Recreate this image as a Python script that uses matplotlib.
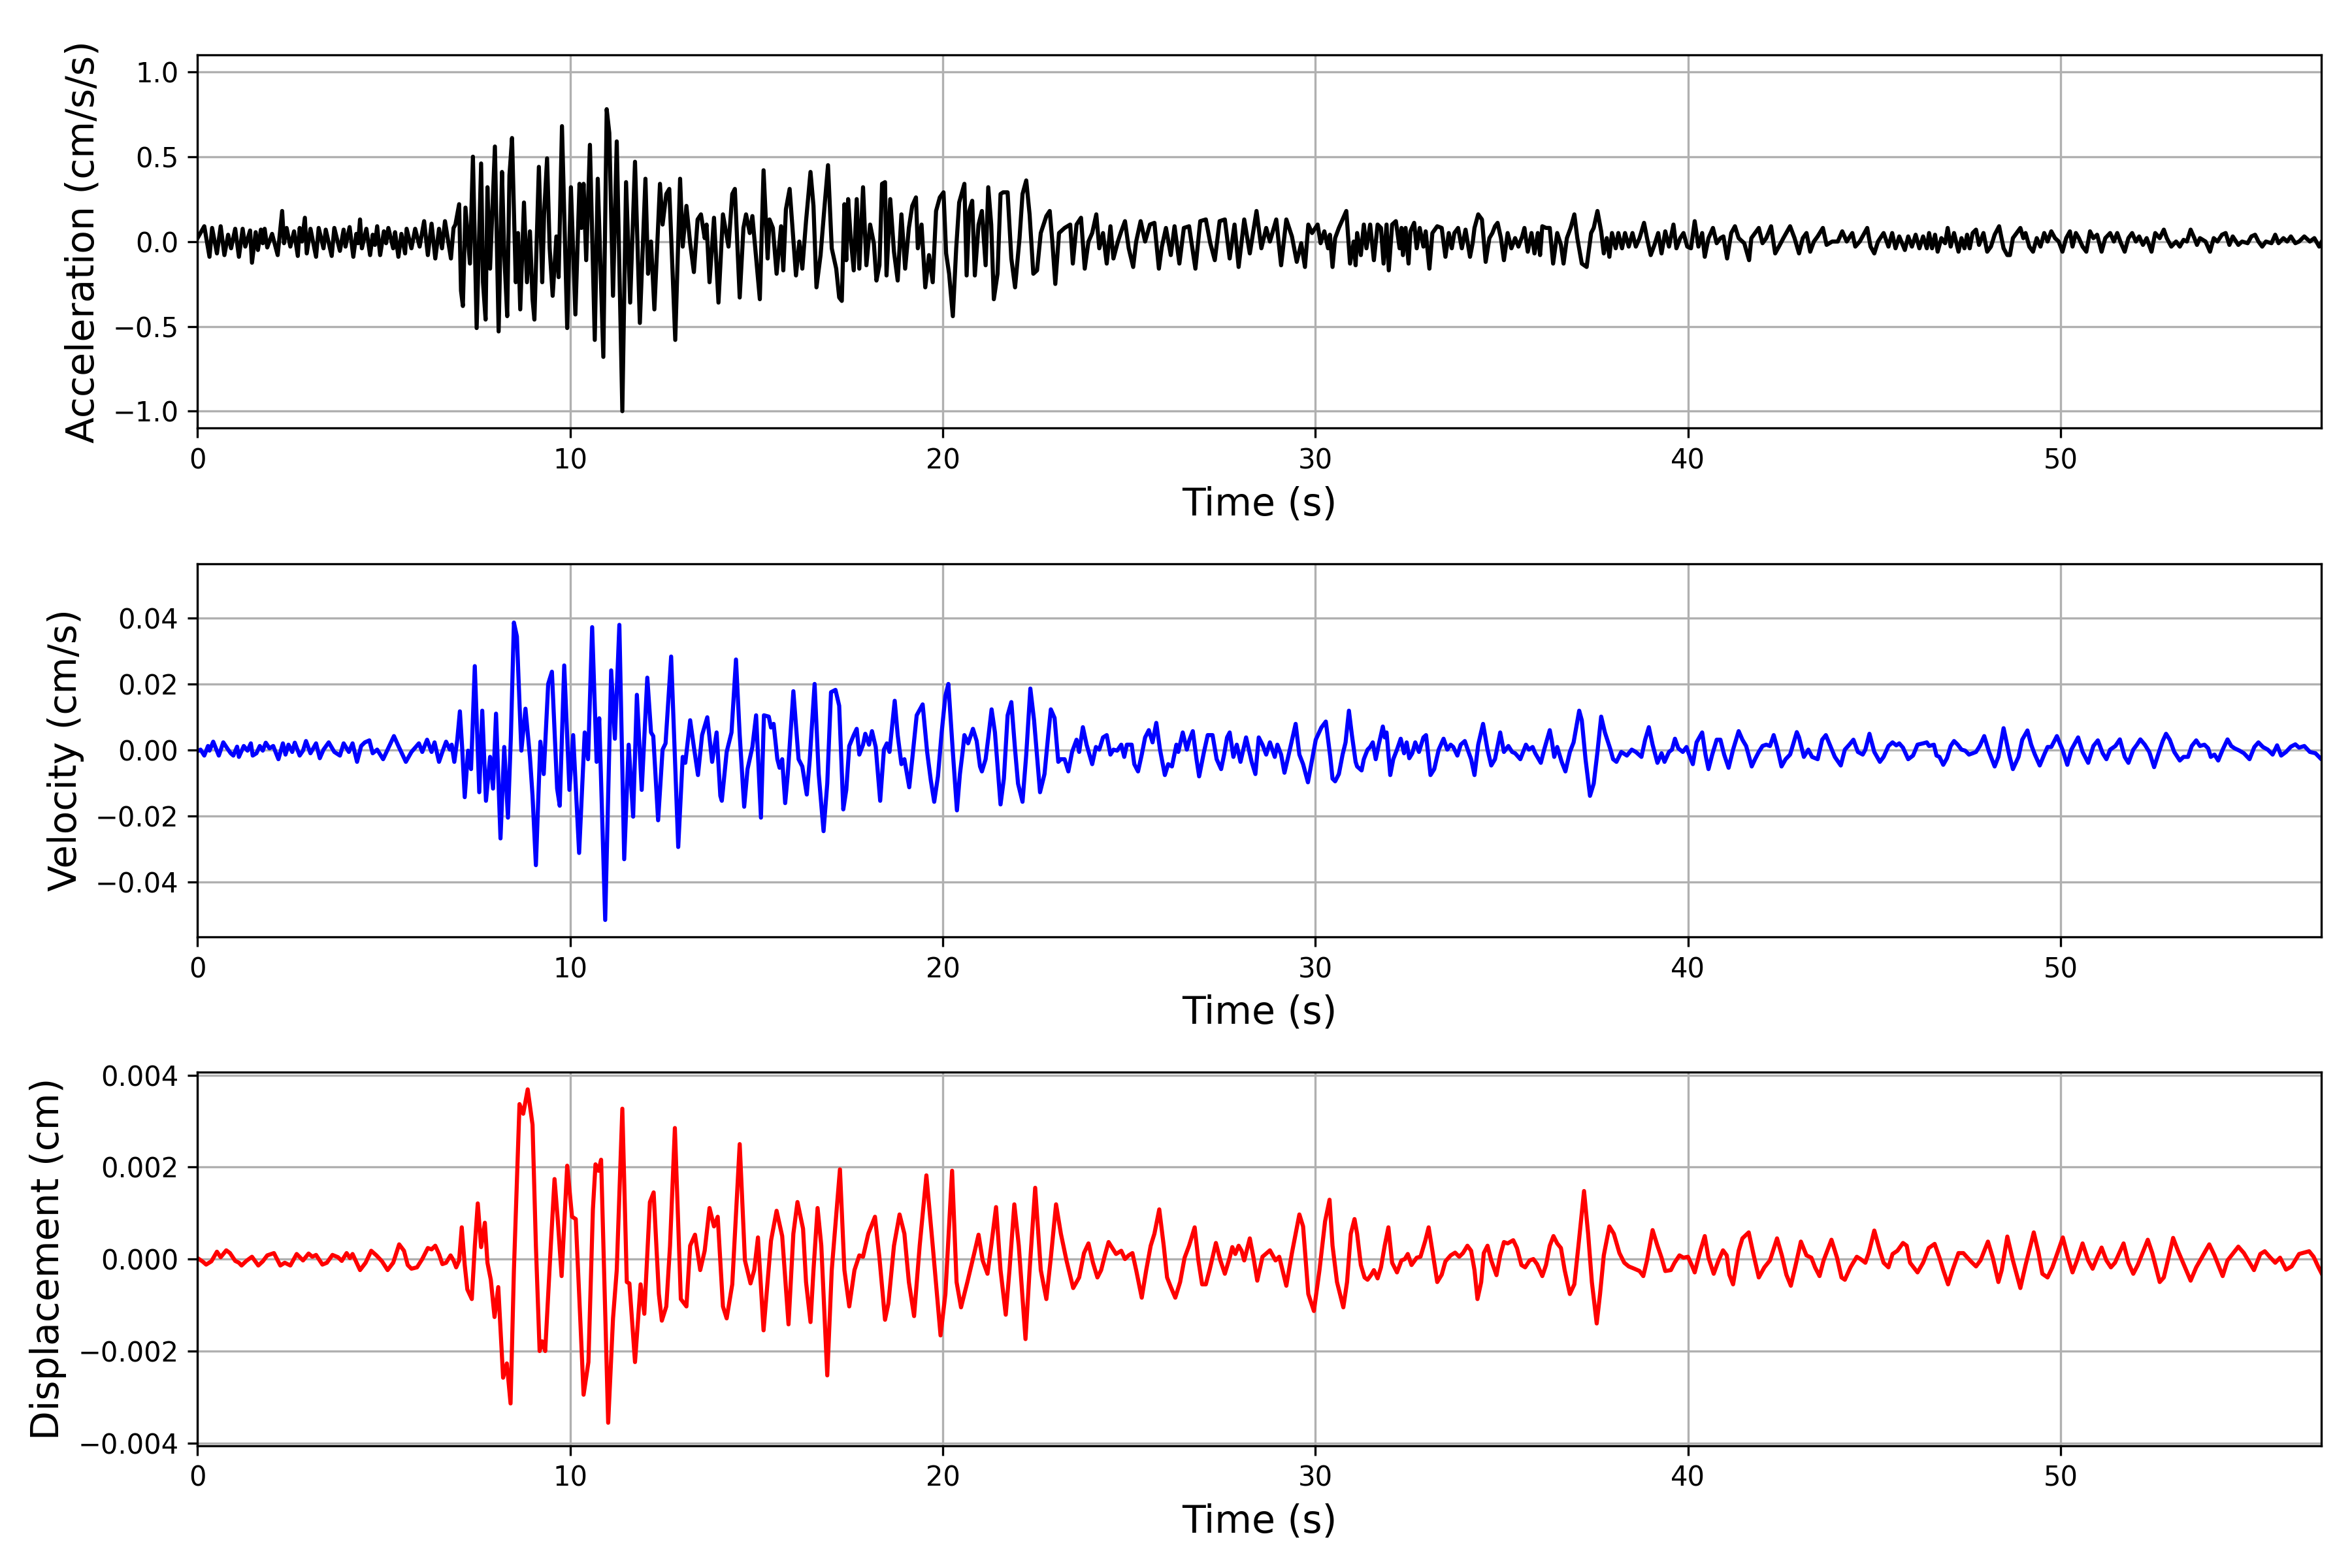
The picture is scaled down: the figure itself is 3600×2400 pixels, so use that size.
import numpy as np
import matplotlib
matplotlib.use("Agg")
import matplotlib.pyplot as plt

# ground acceleration (time s, cm/s/s), turning points
acc_pts = [
    (0.00, 0.02), (0.18, 0.09), (0.32, -0.09), (0.39, 0.08), (0.52, -0.07), (0.62, 0.09), (0.72, -0.08),
    (0.82, 0.04), (0.90, -0.04), (1.01, 0.075), (1.11, -0.09), (1.21, 0.075), (1.28, -0.03), (1.41, 0.065),
    (1.46, -0.125), (1.56, 0.055), (1.62, -0.05), (1.70, 0.07), (1.75, -0.01), (1.80, 0.075), (1.87, -0.035),
    (2.00, 0.045), (2.15, -0.08), (2.27, 0.18), (2.32, -0.01), (2.39, 0.08), (2.49, -0.03), (2.59, 0.06),
    (2.69, -0.085), (2.74, 0.08), (2.80, 0.00), (2.88, 0.14), (2.93, -0.07), (3.03, 0.075), (3.18, -0.09),
    (3.25, 0.08), (3.38, -0.04), (3.44, 0.07), (3.60, -0.085), (3.67, 0.08), (3.82, -0.055), (3.92, 0.07),
    (3.97, -0.03), (4.08, 0.085), (4.18, -0.09), (4.26, 0.045), (4.31, -0.01), (4.36, 0.13), (4.41, -0.04),
    (4.53, 0.075), (4.63, -0.08), (4.70, 0.04), (4.76, -0.02), (4.82, 0.09), (4.90, -0.08), (5.00, 0.06),
    (5.06, -0.01), (5.12, 0.08), (5.25, -0.04), (5.30, 0.055), (5.39, -0.09), (5.47, 0.045), (5.57, -0.07),
    (5.61, 0.075), (5.74, -0.04), (5.84, 0.075), (5.96, -0.03), (6.08, 0.12), (6.18, -0.08), (6.28, 0.105),
    (6.38, -0.10), (6.48, 0.075), (6.56, -0.04), (6.64, 0.12), (6.80, -0.10), (6.87, 0.08),
    (6.92, 0.10), (7.02, 0.22), (7.07, -0.29), (7.12, -0.38), (7.19, 0.20), (7.31, -0.13), (7.39, 0.50),
    (7.49, -0.51), (7.61, 0.46), (7.66, -0.24), (7.73, -0.46), (7.78, 0.32), (7.85, -0.16), (7.90, 0.12),
    (7.98, 0.56), (8.08, -0.53), (8.17, 0.41), (8.23, -0.07), (8.31, -0.44), (8.37, 0.39), (8.44, 0.61),
    (8.54, -0.24), (8.60, 0.05), (8.66, -0.40), (8.76, 0.23), (8.84, -0.24), (8.92, 0.06), (8.99, -0.34),
    (9.04, -0.46), (9.16, 0.44), (9.25, -0.24), (9.30, 0.16), (9.38, 0.49), (9.45, -0.04), (9.53, -0.32),
    (9.63, 0.03), (9.69, -0.21), (9.78, 0.68), (9.92, -0.51), (10.02, 0.32), (10.14, -0.43), (10.25, 0.34),
    (10.30, 0.08), (10.36, 0.34), (10.43, -0.11), (10.53, 0.57), (10.66, -0.58), (10.74, 0.37), (10.89, -0.68),
    (10.98, 0.78), (11.05, 0.64), (11.15, -0.32), (11.25, 0.59), (11.40, -1.00), (11.50, 0.35), (11.61, -0.36),
    (11.74, 0.47), (11.87, -0.48), (12.02, 0.37), (12.09, -0.19), (12.17, 0.00), (12.26, -0.40), (12.41, 0.34),
    (12.48, 0.10), (12.58, 0.28), (12.66, 0.31), (12.82, -0.58), (12.95, 0.37), (13.02, -0.03), (13.12, 0.21),
    (13.22, -0.01), (13.32, -0.18), (13.42, 0.13), (13.51, 0.16), (13.61, 0.02), (13.66, 0.10), (13.74, -0.24),
    (13.86, 0.14), (13.98, -0.36), (14.10, 0.16), (14.25, -0.03), (14.35, 0.28), (14.42, 0.31), (14.55, -0.33),
    (14.65, 0.08), (14.72, 0.16), (14.82, 0.05), (14.89, 0.15), (15.09, -0.34), (15.19, 0.42),
    (15.30, -0.10), (15.35, 0.13), (15.44, 0.08), (15.54, -0.19), (15.66, 0.09), (15.72, -0.17), (15.79, 0.19),
    (15.89, 0.31), (15.96, 0.10), (16.06, -0.20), (16.15, 0.00), (16.23, -0.16), (16.33, 0.12), (16.45, 0.41),
    (16.53, 0.21), (16.61, -0.27), (16.72, -0.08), (16.82, 0.19), (16.92, 0.45), (17.02, -0.04), (17.14, -0.16),
    (17.22, -0.33), (17.29, -0.35), (17.36, 0.22), (17.41, -0.11), (17.46, 0.25), (17.53, 0.02), (17.61, -0.17),
    (17.69, 0.25), (17.76, -0.16), (17.86, 0.32), (17.95, -0.14), (18.05, 0.10), (18.15, -0.01), (18.22, -0.23),
    (18.30, -0.14), (18.37, 0.34), (18.45, 0.35), (18.49, -0.20), (18.59, 0.25), (18.69, -0.06), (18.79, -0.23),
    (18.89, 0.16), (18.99, -0.16), (19.09, 0.08), (19.18, 0.21), (19.28, 0.26), (19.33, -0.04), (19.43, 0.10),
    (19.53, -0.27), (19.63, -0.08), (19.73, -0.24), (19.82, 0.18), (19.92, 0.26), (20.02, 0.29), (20.09, -0.07),
    (20.17, -0.19), (20.27, -0.44), (20.36, -0.04), (20.44, 0.23), (20.58, 0.34), (20.64, -0.20), (20.71, 0.18),
    (20.79, 0.24), (20.86, -0.20), (20.96, 0.10), (21.05, 0.18), (21.15, -0.14), (21.22, 0.32), (21.30, 0.10),
    (21.37, -0.34), (21.47, -0.19), (21.55, 0.28), (21.62, 0.29), (21.74, 0.29), (21.84, -0.10), (21.94, -0.27),
    (22.06, 0.02), (22.14, 0.28), (22.24, 0.36), (22.33, 0.16), (22.43, -0.19), (22.53, -0.17), (22.63, 0.05),
    (22.78, 0.15), (22.87, 0.18), (22.94, 0.00), (23.02, -0.25), (23.12, 0.05), (23.27, 0.08), (23.42, 0.10),
    (23.49, -0.13), (23.59, 0.10), (23.71, 0.14), (23.81, -0.16), (23.91, 0.00), (24.01, 0.05), (24.12, 0.16),
    (24.20, -0.04), (24.30, 0.05), (24.40, -0.13), (24.50, 0.09), (24.58, -0.10), (24.70, 0.00), (24.79, 0.06),
    (24.89, 0.12), (24.99, -0.04), (25.11, -0.15), (25.19, 0.00), (25.31, 0.12), (25.43, 0.00), (25.56, 0.10),
    (25.68, 0.11), (25.80, -0.16), (25.88, -0.03), (25.99, 0.08), (26.12, -0.08), (26.22, 0.09), (26.35, -0.13),
    (26.47, 0.08), (26.61, 0.09), (26.78, -0.16), (26.91, 0.12), (27.06, 0.13), (27.18, -0.01), (27.30, -0.11),
    (27.43, 0.12), (27.57, 0.13), (27.70, -0.10), (27.83, 0.10), (27.94, -0.15), (28.09, 0.13), (28.24, -0.07),
    (28.42, 0.18), (28.55, -0.04), (28.68, 0.08), (28.78, 0.00), (28.95, 0.13), (29.08, -0.14), (29.22, 0.13),
    (29.37, 0.03), (29.50, -0.12), (29.62, -0.01), (29.72, -0.15), (29.81, 0.10), (29.91, 0.05), (30.06, 0.10),
    (30.14, -0.01), (30.24, 0.06), (30.34, -0.04), (30.39, 0.04), (30.46, -0.15), (30.53, 0.02), (30.63, 0.08),
    (30.73, 0.13), (30.83, 0.18), (30.93, -0.13), (31.03, 0.00), (31.08, -0.14), (31.12, 0.05), (31.22, -0.08),
    (31.30, 0.10), (31.37, -0.04), (31.47, 0.10), (31.57, -0.11), (31.67, 0.10), (31.76, 0.08), (31.83, -0.13),
    (31.91, 0.10), (31.97, -0.17), (32.06, 0.10), (32.16, 0.12), (32.26, -0.04), (32.31, 0.08), (32.35, -0.08),
    (32.42, 0.08), (32.50, -0.13), (32.55, 0.06), (32.65, 0.11), (32.72, -0.04), (32.80, 0.08), (32.90, -0.03),
    (32.96, 0.06), (33.06, -0.16), (33.14, 0.05), (33.27, 0.09), (33.39, 0.08), (33.49, -0.09), (33.58, 0.05),
    (33.66, -0.04), (33.73, 0.05), (33.83, 0.08), (33.93, -0.04), (34.03, 0.07), (34.15, -0.09), (34.22, -0.01),
    (34.27, 0.08), (34.37, 0.16), (34.47, 0.13), (34.57, -0.12), (34.67, 0.02), (34.75, 0.05), (34.82, 0.09),
    (34.89, 0.11), (34.98, 0.02), (35.06, -0.11), (35.16, 0.05), (35.26, -0.04), (35.36, 0.02), (35.45, -0.03),
    (35.55, 0.03), (35.61, 0.08), (35.70, -0.06), (35.80, 0.05), (35.88, -0.07), (35.97, 0.05), (36.03, -0.08),
    (36.09, 0.09), (36.19, 0.08), (36.29, 0.08), (36.38, -0.13), (36.49, 0.05), (36.59, -0.02), (36.66, -0.13),
    (36.75, 0.02), (36.85, 0.08), (36.95, 0.16), (37.03, 0.02), (37.15, -0.13), (37.28, -0.15), (37.40, 0.05),
    (37.47, 0.08), (37.57, 0.18), (37.67, 0.06), (37.74, -0.07), (37.82, 0.02), (37.89, -0.09), (37.96, 0.05),
    (38.06, -0.04), (38.13, 0.05), (38.23, -0.04), (38.31, 0.05), (38.41, -0.03), (38.51, 0.05), (38.60, -0.03),
    (38.70, 0.02), (38.82, 0.11), (38.90, 0.02), (39.00, -0.08), (39.10, -0.02), (39.20, 0.05), (39.29, -0.07),
    (39.39, 0.06), (39.49, -0.03), (39.61, 0.10), (39.69, -0.04), (39.79, 0.02), (39.88, 0.05), (39.98, -0.03),
    (40.08, -0.04), (40.18, 0.12), (40.28, -0.03), (40.38, 0.05), (40.45, -0.09), (40.55, 0.02), (40.67, 0.08),
    (40.77, -0.01), (40.87, 0.02), (40.95, 0.03), (41.05, -0.10), (41.16, 0.05), (41.26, 0.09), (41.36, 0.02),
    (41.51, -0.01), (41.64, -0.11), (41.70, 0.02), (41.80, 0.05), (41.90, 0.08), (42.00, -0.01), (42.10, 0.02),
    (42.23, 0.09), (42.34, -0.07), (42.44, -0.03), (42.56, 0.02), (42.74, 0.09), (42.86, 0.02), (42.98, -0.07),
    (43.08, 0.02), (43.18, 0.05), (43.28, -0.06), (43.38, 0.00), (43.48, 0.03), (43.62, 0.08), (43.72, -0.02),
    (43.87, 0.00), (44.02, 0.00), (44.14, 0.06), (44.26, 0.00), (44.41, 0.05), (44.49, -0.03), (44.61, 0.00),
    (44.81, 0.08), (44.90, -0.03), (45.00, -0.07), (45.10, 0.00), (45.25, 0.05), (45.38, -0.03), (45.48, 0.05),
    (45.57, -0.04), (45.67, 0.03), (45.82, -0.05), (45.91, 0.03), (46.01, -0.03), (46.11, 0.04), (46.21, -0.04),
    (46.31, 0.03), (46.41, -0.04), (46.47, 0.05), (46.55, -0.04), (46.63, 0.04), (46.70, -0.06), (46.80, 0.02),
    (46.90, -0.01), (46.97, 0.08), (47.05, -0.03), (47.14, 0.05), (47.26, -0.06), (47.34, 0.02), (47.42, -0.04),
    (47.49, 0.04), (47.56, -0.04), (47.64, 0.05), (47.73, 0.07), (47.81, -0.02), (47.93, 0.05), (48.03, -0.06),
    (48.13, -0.03), (48.23, 0.04), (48.35, 0.09), (48.47, -0.04), (48.57, -0.08), (48.64, -0.08), (48.72, 0.02),
    (48.82, 0.05), (48.92, 0.08), (49.00, 0.02), (49.06, 0.05), (49.16, -0.03), (49.26, -0.06), (49.36, 0.02),
    (49.46, -0.03), (49.56, 0.05), (49.65, 0.00), (49.75, 0.06), (49.85, 0.02), (49.95, 0.00), (50.05, -0.06),
    (50.15, 0.02), (50.25, 0.06), (50.32, -0.03), (50.41, 0.05), (50.49, 0.02), (50.59, -0.03), (50.69, -0.06),
    (50.79, 0.06), (50.88, 0.02), (50.98, 0.04), (51.10, -0.06), (51.20, 0.02), (51.33, 0.05), (51.43, 0.00),
    (51.52, 0.05), (51.62, -0.01), (51.72, -0.06), (51.82, 0.02), (51.92, 0.05), (52.02, 0.00), (52.11, 0.03),
    (52.21, -0.02), (52.31, 0.02), (52.44, -0.06), (52.54, 0.05), (52.66, 0.02), (52.77, 0.07), (52.85, 0.02),
    (52.97, -0.03), (53.10, 0.00), (53.20, -0.03), (53.30, 0.01), (53.39, 0.00), (53.49, 0.07), (53.59, 0.02),
    (53.66, -0.02), (53.74, 0.02), (53.89, 0.00), (54.01, -0.06), (54.11, 0.02), (54.21, 0.00), (54.33, 0.04),
    (54.43, 0.05), (54.53, -0.02), (54.62, 0.03), (54.77, -0.02), (54.87, 0.00), (55.02, -0.01), (55.12, 0.03),
    (55.22, 0.04), (55.31, 0.00), (55.41, -0.03), (55.51, 0.00), (55.66, -0.01), (55.76, 0.04), (55.85, -0.01),
    (55.98, 0.02), (56.08, 0.00), (56.18, 0.03), (56.30, -0.01), (56.40, 0.00), (56.54, 0.03), (56.69, 0.00),
    (56.81, 0.02), (56.94, -0.03), (57.01, 0.00),
]

# ground velocity (time s, value in 1e-3 cm/s)
vel_pts_milli = [
    (0.00, -0.3), (0.08, 0.2), (0.18, -1.6), (0.28, 1.3), (0.32, -0.1), (0.42, 2.6), (0.57, -1.6), (0.69, 2.4),
    (0.82, 0.2), (0.89, -0.9), (0.96, -1.6), (1.06, 1.1), (1.11, -2.0), (1.24, 1.3), (1.34, -0.1), (1.43, 2.1),
    (1.48, -1.6), (1.58, -0.9), (1.67, 1.3), (1.75, -0.1), (1.83, 2.3), (1.93, 0.6), (2.03, 1.3), (2.17, -2.7),
    (2.29, 2.1), (2.36, -1.3), (2.44, 1.7), (2.54, -0.5), (2.61, 2.3), (2.74, -1.6), (2.83, -0.1), (2.91, 2.8),
    (3.03, -0.9), (3.18, 2.1), (3.28, -2.4), (3.38, 0.2), (3.52, 2.4), (3.67, -0.5), (3.82, -1.6), (3.92, 2.1),
    (4.06, -0.5), (4.16, 2.1), (4.28, -3.5), (4.39, 1.3), (4.49, 2.4), (4.61, 3.0), (4.70, -0.9), (4.82, 0.2),
    (4.98, -2.7), (5.10, 0.2), (5.27, 4.3), (5.39, 1.3), (5.59, -3.5), (5.74, -0.5), (5.94, 2.1), (6.03, -0.5),
    (6.16, 3.2), (6.28, -0.5), (6.36, 2.4), (6.48, -3.5), (6.57, -0.5), (6.67, 2.6), (6.77, 0.2), (6.82, 1.7),
    (6.89, -3.5), (6.97, 3.2), (7.04, 11.8), (7.10, 1.0), (7.17, -14.2), (7.26, -0.1), (7.34, -5.7), (7.44, 25.5),
    (7.56, -12.7), (7.64, 12.0), (7.74, -15.3), (7.85, -2.0), (7.93, -11.6), (8.01, 11.1), (8.13, -26.7),
    (8.23, 1.0), (8.33, -20.4), (8.41, 4.6), (8.49, 38.7), (8.57, 34.5), (8.69, -0.1), (8.80, 12.6), (8.92, -2.0),
    (8.99, -13.8), (9.08, -34.8), (9.20, 2.6), (9.29, -7.2), (9.41, 20.1), (9.51, 23.8), (9.65, -11.6),
    (9.72, -16.8), (9.84, 25.7), (9.98, -12.0), (10.08, 4.6), (10.24, -31.1), (10.39, 5.4), (10.48, -2.7),
    (10.59, 37.3), (10.71, -3.5), (10.78, 9.7), (10.94, -51.4), (11.10, 24.2), (11.20, 3.5), (11.32, 38.0),
    (11.45, -33.0), (11.57, 1.7), (11.69, -20.1), (11.79, 16.8), (11.92, -12.0), (12.07, 22.0), (12.17, 5.4),
    (12.23, 4.3), (12.36, -21.2), (12.48, 0.2), (12.56, 2.1), (12.71, 28.4), (12.90, -29.3), (13.02, -2.0),
    (13.09, -3.8), (13.22, 9.1), (13.32, 1.0), (13.43, -7.5), (13.54, 4.6), (13.68, 10.0), (13.81, -3.5),
    (13.93, 5.4), (14.03, -13.8), (14.07, -15.3), (14.20, -0.5), (14.33, 5.4), (14.45, 27.5), (14.55, 4.6),
    (14.67, -17.1), (14.76, -5.7), (14.89, 1.0), (14.99, 10.6), (15.12, -20.4), (15.20, 10.6),
    (15.33, 10.2), (15.39, 6.9), (15.46, 8.0), (15.56, -2.7), (15.62, -5.3), (15.69, -2.7), (15.77, -16.0),
    (15.84, -7.2), (15.99, 17.9), (16.08, 4.6), (16.13, -2.7), (16.23, -4.9), (16.35, -13.4), (16.43, -2.7),
    (16.56, 20.1), (16.67, -7.2), (16.80, -24.5), (16.90, -10.0), (17.00, 17.6), (17.12, 18.3), (17.22, 13.5),
    (17.33, -17.9), (17.41, -12.0), (17.49, 1.3), (17.61, 4.6), (17.69, 6.5), (17.76, -1.3), (17.86, 1.7),
    (17.92, 5.0), (18.02, 1.7), (18.10, 5.8), (18.20, 1.0), (18.32, -15.3), (18.42, 0.2), (18.50, 2.1),
    (18.57, -0.5), (18.71, 15.0), (18.79, 4.6), (18.89, -4.2), (18.97, -2.7), (19.10, -11.2), (19.18, -2.7),
    (19.30, 10.6), (19.46, 13.9), (19.58, -0.5), (19.68, -9.2), (19.77, -15.6), (19.87, -7.9), (19.97, 5.4),
    (20.07, 16.5), (20.15, 20.1), (20.27, -0.5), (20.38, -18.2), (20.46, -7.2), (20.54, 0.2), (20.58, 4.6),
    (20.68, 2.1), (20.81, 6.5), (20.91, 2.8), (21.00, -4.9), (21.05, -6.4), (21.15, -2.7), (21.23, 4.6),
    (21.31, 12.4), (21.40, 5.4), (21.55, -16.4), (21.64, -8.6), (21.74, 10.6), (21.84, 14.6), (21.94, 0.2),
    (22.02, -10.1), (22.14, -15.6), (22.24, -1.3), (22.35, 18.7), (22.45, 9.1), (22.61, -12.7), (22.73, -7.2),
    (22.83, 4.6), (22.90, 12.4), (23.00, 9.8), (23.10, -3.5), (23.17, -2.7), (23.27, -2.7), (23.37, -6.4),
    (23.47, -0.5), (23.59, 3.2), (23.66, -0.5), (23.76, 7.0), (23.86, 1.7), (24.01, -4.2), (24.11, 1.0),
    (24.20, 0.2), (24.30, 3.9), (24.40, 4.6), (24.50, -1.3), (24.58, 0.2), (24.68, -0.1), (24.79, 1.7),
    (24.87, -2.0), (24.94, 1.7), (25.07, 1.7), (25.14, -4.2), (25.24, -6.4), (25.34, -1.3), (25.43, 3.9),
    (25.53, 6.1), (25.63, 2.4), (25.73, 8.3), (25.83, 0.2), (25.96, -7.5), (26.05, -4.2), (26.15, -4.9),
    (26.27, 1.7), (26.32, -0.5), (26.44, 5.4), (26.55, 0.2), (26.62, 3.2), (26.71, 5.8), (26.81, -2.7),
    (26.88, -7.9), (27.01, -0.5), (27.11, 4.6), (27.24, 4.6), (27.35, -2.7), (27.47, -5.7), (27.55, -1.3),
    (27.63, 3.9), (27.70, 5.4), (27.80, -2.0), (27.89, 1.7), (27.99, -3.5), (28.14, 3.9), (28.29, -3.5),
    (28.39, -7.2), (28.48, 3.9), (28.58, 1.7), (28.68, -1.3), (28.78, 2.4), (28.91, -2.0), (28.98, 1.7),
    (29.08, -1.3), (29.17, -6.8), (29.27, -2.0), (29.47, 8.0), (29.57, -1.3), (29.67, -4.2), (29.80, -9.7),
    (29.89, -4.2), (30.01, 3.2), (30.16, 6.9), (30.28, 8.7), (30.40, -2.0), (30.46, -8.6),
    (30.53, -9.4), (30.63, -7.2), (30.73, -1.3), (30.81, 2.4), (30.90, 12.0), (30.98, 4.6), (31.08, -3.5),
    (31.12, -4.9), (31.24, -6.1), (31.30, -2.7), (31.40, 0.2), (31.47, 1.0), (31.54, 2.4), (31.62, -2.7),
    (31.70, 1.7), (31.81, 7.2), (31.86, 3.9), (31.91, 5.4), (32.01, -7.5), (32.09, -2.7), (32.19, 0.2),
    (32.29, 3.5), (32.38, -0.9), (32.45, 2.4), (32.52, -2.4), (32.60, -0.9), (32.68, 2.4), (32.78, -0.5),
    (32.90, 3.9), (32.97, 4.6), (33.09, -7.5), (33.19, -5.7), (33.31, 0.2), (33.44, 3.5), (33.54, 0.2),
    (33.63, 1.7), (33.70, 1.0), (33.81, -1.6), (33.90, 1.7), (34.01, 2.8), (34.11, -0.5), (34.18, -2.7),
    (34.27, -7.5), (34.37, 1.7), (34.50, 8.0), (34.62, 0.2), (34.72, -4.6), (34.82, -2.7), (34.96, 5.4),
    (35.06, -0.5), (35.18, 1.3), (35.28, -0.5), (35.36, -0.9), (35.50, -2.7), (35.65, 1.7), (35.73, 0.2),
    (35.83, 1.0), (35.90, -0.9), (36.05, -3.8), (36.14, 0.2), (36.29, 6.1), (36.34, 3.2), (36.41, -2.0),
    (36.49, 1.0), (36.61, -3.5), (36.71, -6.4), (36.83, -0.5), (36.93, 2.4), (37.08, 12.0), (37.15, 9.1),
    (37.25, -2.7), (37.37, -13.8), (37.47, -10.1), (37.57, -0.5), (37.67, 10.2), (37.77, 5.4), (37.92, 0.2),
    (37.99, -2.7), (38.08, -3.5), (38.21, -0.5), (38.36, -1.6), (38.49, 0.2), (38.60, -0.5), (38.75, -2.0),
    (38.85, 3.2), (38.95, 7.0), (39.05, 1.7), (39.18, -3.8), (39.29, -0.9), (39.37, -3.5), (39.49, -0.5),
    (39.57, 0.2), (39.65, 3.5), (39.74, 0.6), (39.86, -0.5), (39.96, 1.0), (40.03, -1.3), (40.13, -4.2),
    (40.23, 2.4), (40.38, 5.4), (40.47, -1.3), (40.55, -5.7), (40.65, -1.3), (40.77, 3.2), (40.87, 3.2),
    (40.97, -1.3), (41.09, -5.3), (41.21, 0.2), (41.36, 5.8), (41.46, 3.2), (41.56, 1.3), (41.71, -4.9),
    (41.80, -2.7), (41.90, -0.5), (42.00, 1.3), (42.10, 1.7), (42.20, 1.3), (42.30, 4.6), (42.39, 1.0),
    (42.51, -4.9), (42.62, -2.7), (42.74, -1.3), (42.92, 5.5), (42.98, 3.9), (43.11, -2.0), (43.23, 0.2),
    (43.33, -2.0), (43.48, -2.7), (43.60, 3.2), (43.70, 4.6), (43.82, 1.3), (43.94, -2.0), (44.10, -4.6),
    (44.21, 0.2), (44.33, 1.7), (44.44, 3.2), (44.56, -0.5), (44.69, -1.3), (44.76, 0.2), (44.87, 5.0),
    (45.00, -0.5), (45.15, -3.5), (45.25, -2.0), (45.38, 1.3), (45.49, 2.4),
    (45.59, 1.5), (45.67, 2.1), (45.77, 0.8), (45.91, -2.7), (46.04, -1.6), (46.16, 1.7), (46.31, 2.1),
    (46.41, 2.4), (46.47, 1.3), (46.60, 1.7), (46.67, -1.6), (46.75, -2.0), (46.85, -4.4), (46.95, -2.4),
    (47.05, 1.3), (47.14, 2.8), (47.24, 1.7), (47.34, 0.2), (47.44, -0.1), (47.54, -1.3), (47.64, -0.9),
    (47.73, -0.5), (47.83, 1.3), (47.95, 4.3), (48.08, -0.5), (48.23, -4.9), (48.33, -2.0), (48.47, 6.7),
    (48.62, -1.3), (48.72, -5.7), (48.87, -2.0), (48.97, 3.2), (49.11, 6.0), (49.21, 1.7), (49.31, -1.3),
    (49.44, -4.6), (49.56, -1.3), (49.65, 1.0), (49.75, 1.0), (49.90, 4.3), (50.05, 0.2), (50.18, -4.4),
    (50.29, 0.2), (50.47, 3.9), (50.59, -0.5), (50.74, -3.8), (50.88, 1.3), (51.00, 3.0), (51.13, -0.9),
    (51.23, -2.7), (51.33, 0.2), (51.47, 1.3), (51.59, 3.3), (51.72, -2.0), (51.82, -3.8), (51.95, 0.2),
    (52.05, 1.7), (52.14, 3.3), (52.26, 1.7), (52.38, -0.5), (52.51, -5.1), (52.64, -0.5), (52.74, 2.8),
    (52.83, 5.0), (52.93, 3.2), (53.05, -0.5), (53.20, -3.1), (53.30, -2.0), (53.42, -2.0), (53.52, 1.3),
    (53.64, 3.0), (53.74, 1.3), (53.86, 1.7), (53.96, 0.6), (54.03, -2.0), (54.13, -1.3), (54.23, -3.1),
    (54.35, 0.2), (54.48, 3.3), (54.58, 1.3), (54.67, 0.6), (54.80, -0.1), (54.92, -0.9), (55.07, -2.7),
    (55.20, 1.0), (55.31, 2.4), (55.43, 1.0), (55.56, 0.2), (55.69, -1.3), (55.81, 1.5), (55.92, -1.6),
    (56.05, -0.5), (56.18, 1.1), (56.30, 1.8), (56.40, 0.8), (56.54, 1.3), (56.69, -0.5), (56.84, -0.9),
    (56.97, -2.4),
]

# ground displacement (time s, value in 1e-3 cm)
disp_pts_milli = [
    (0.00, 0.02), (0.13, -0.05), (0.23, -0.12), (0.37, -0.05), (0.52, 0.16), (0.62, 0.04), (0.77, 0.19),
    (0.87, 0.13), (1.01, -0.04), (1.11, -0.08), (1.18, -0.14), (1.31, -0.04), (1.46, 0.05), (1.63, -0.14),
    (1.75, -0.05), (1.87, 0.08), (2.05, 0.13), (2.22, -0.14), (2.34, -0.08), (2.49, -0.14), (2.66, 0.11),
    (2.83, -0.03), (2.98, 0.12), (3.08, 0.05), (3.18, 0.09), (3.35, -0.12), (3.47, -0.08), (3.62, 0.09),
    (3.77, 0.04), (3.87, -0.04), (4.00, 0.13), (4.09, 0.02), (4.16, 0.11), (4.36, -0.24), (4.51, -0.08),
    (4.66, 0.18), (4.80, 0.08), (4.95, -0.05), (5.10, -0.24), (5.25, -0.08), (5.41, 0.32), (5.54, 0.18),
    (5.64, -0.13), (5.74, -0.21), (5.89, -0.18), (6.03, 0.0), (6.18, 0.24), (6.28, 0.21), (6.38, 0.29),
    (6.48, 0.11), (6.57, -0.11), (6.67, -0.08), (6.79, 0.08), (6.87, -0.03), (6.94, -0.18), (7.02, -0.03),
    (7.09, 0.69), (7.17, -0.13), (7.24, -0.66), (7.36, -0.87), (7.44, 0.29), (7.52, 1.21), (7.61, 0.26),
    (7.71, 0.79), (7.78, -0.08), (7.87, -0.45), (7.97, -1.26), (8.07, -0.61), (8.20, -2.58), (8.30, -2.27),
    (8.40, -3.14), (8.49, -0.24), (8.64, 3.37), (8.74, 3.16), (8.86, 3.69), (8.99, 2.92), (9.08, 0.29),
    (9.18, -2.0), (9.25, -1.79), (9.33, -2.0), (9.48, 0.29), (9.58, 1.74), (9.67, 0.82), (9.77, -0.37),
    (9.92, 2.03), (10.05, 0.92), (10.15, 0.87), (10.27, -1.29), (10.36, -2.95), (10.49, -2.24), (10.61, 1.08),
    (10.68, 2.06), (10.76, 1.92), (10.83, 2.16), (10.91, -0.24), (11.02, -3.56), (11.15, -1.29), (11.25, -0.24),
    (11.40, 3.27), (11.52, -0.5), (11.59, -0.53), (11.74, -2.24), (11.89, -0.55), (11.99, -1.19), (12.14, 1.24),
    (12.24, 1.45), (12.38, -0.76), (12.46, -1.34), (12.58, -1.03), (12.68, 0.29), (12.81, 2.85), (12.97, -0.87),
    (13.12, -1.03), (13.22, 0.29), (13.35, 0.53), (13.49, -0.24), (13.61, 0.18), (13.74, 1.11), (13.86, 0.71),
    (13.96, 0.92), (14.10, -1.03), (14.20, -1.29), (14.35, -0.55), (14.55, 2.5), (14.69, -0.03), (14.84, -0.53),
    (14.94, -0.24), (15.04, 0.47), (15.19, -1.55),
    (15.39, 0.40), (15.54, 1.05), (15.69, 0.50), (15.86, -1.42), (15.99, 0.55), (16.10, 1.24), (16.25, 0.66),
    (16.33, -0.50), (16.45, -1.37), (16.53, -0.24), (16.64, 1.11), (16.74, 0.29), (16.90, -2.53), (17.02, -0.24),
    (17.24, 1.95), (17.36, -0.24), (17.49, -1.03), (17.63, -0.24), (17.76, 0.08), (17.86, 0.05), (18.00, 0.55),
    (18.18, 0.92), (18.30, 0.03), (18.45, -1.32), (18.54, -0.97), (18.69, 0.29), (18.84, 0.97), (18.97, 0.55),
    (19.09, -0.50), (19.23, -1.24), (19.38, 0.29), (19.56, 1.82), (19.73, 0.29), (19.94, -1.66), (20.07, -0.76),
    (20.25, 1.92), (20.37, -0.50), (20.49, -1.05), (20.66, -0.50), (20.86, 0.18), (20.96, 0.53), (21.07, -0.03),
    (21.20, -0.32), (21.30, 0.29), (21.43, 1.13), (21.55, -0.24), (21.69, -1.21), (21.79, -0.24), (21.92, 1.19),
    (22.04, 0.29), (22.22, -1.74), (22.33, -0.24), (22.48, 1.55), (22.63, -0.24), (22.78, -0.87), (22.90, 0.03),
    (23.04, 1.19), (23.17, 0.55), (23.32, -0.03), (23.50, -0.63), (23.66, -0.40), (23.79, 0.13), (23.91, 0.34),
    (24.03, -0.08), (24.15, -0.40), (24.25, -0.24), (24.35, 0.08), (24.45, 0.37), (24.55, 0.24), (24.65, 0.11),
    (24.79, 0.18), (24.89, 0.0), (24.99, 0.08), (25.09, 0.13), (25.19, -0.24), (25.34, -0.84), (25.46, -0.24),
    (25.58, 0.29), (25.68, 0.55), (25.81, 1.08), (25.93, 0.29), (26.02, -0.40), (26.12, -0.61), (26.24, -0.84),
    (26.37, -0.50), (26.49, 0.03), (26.61, 0.29), (26.76, 0.69), (26.86, -0.03), (26.96, -0.55), (27.06, -0.55),
    (27.16, -0.24), (27.33, 0.35), (27.45, -0.03), (27.57, -0.32), (27.70, 0.03), (27.77, 0.26), (27.85, 0.11),
    (27.94, 0.29), (28.02, 0.18), (28.09, -0.03), (28.24, 0.45), (28.34, 0.03), (28.44, -0.47), (28.58, 0.05),
    (28.78, 0.19), (28.93, -0.03), (29.03, 0.05), (29.22, -0.58), (29.37, 0.13), (29.57, 0.97), (29.67, 0.71),
    (29.81, -0.76), (29.96, -1.13), (30.11, -0.24), (30.26, 0.82), (30.38, 1.29), (30.46, 0.29),
    (30.58, -0.50), (30.75, -1.05), (30.85, -0.50), (30.95, 0.55), (31.05, 0.87), (31.12, 0.55), (31.22, -0.13),
    (31.32, -0.40), (31.40, -0.45), (31.50, -0.34), (31.57, -0.24), (31.67, -0.42), (31.76, -0.18), (31.86, 0.29),
    (31.96, 0.69), (32.06, -0.08), (32.19, -0.29), (32.31, -0.03), (32.40, 0.0), (32.48, 0.11), (32.58, -0.13),
    (32.72, 0.03), (32.82, 0.05), (32.95, 0.40), (33.04, 0.69), (33.14, 0.18), (33.27, -0.50), (33.39, -0.34),
    (33.49, -0.05), (33.63, 0.08), (33.75, 0.14), (33.86, 0.05), (33.96, 0.13), (34.08, 0.29), (34.18, 0.18),
    (34.27, -0.24), (34.35, -0.87), (34.45, -0.50), (34.52, 0.13), (34.62, 0.29), (34.72, -0.03), (34.86, -0.35),
    (34.96, 0.08), (35.06, 0.37), (35.16, 0.34), (35.31, 0.41), (35.41, 0.24), (35.53, -0.13), (35.63, -0.18),
    (35.75, -0.03), (35.85, 0.0), (35.95, -0.11), (36.09, -0.37), (36.19, -0.13), (36.29, 0.29), (36.39, 0.50),
    (36.49, 0.34), (36.59, 0.24), (36.69, -0.24), (36.83, -0.76), (36.95, -0.55), (37.06, 0.29), (37.21, 1.48),
    (37.32, 0.55), (37.42, -0.50), (37.55, -1.40), (37.64, -0.76), (37.74, 0.08), (37.89, 0.71), (38.01, 0.55),
    (38.16, 0.13), (38.29, -0.08), (38.41, -0.16), (38.56, -0.21), (38.70, -0.26), (38.80, -0.37), (38.90, -0.03),
    (39.05, 0.63), (39.18, 0.29), (39.29, 0.03), (39.39, -0.26), (39.54, -0.24), (39.64, -0.08), (39.77, 0.08),
    (39.88, 0.03), (40.00, 0.05), (40.10, -0.13), (40.18, -0.29), (40.33, 0.18), (40.45, 0.50), (40.55, 0.03),
    (40.69, -0.32), (40.82, -0.03), (40.94, 0.19), (41.04, 0.08), (41.11, -0.34), (41.21, -0.55), (41.36, 0.18),
    (41.46, 0.45), (41.63, 0.58), (41.75, 0.13), (41.90, -0.40), (42.05, -0.18), (42.20, -0.03), (42.39, 0.45),
    (42.52, 0.08), (42.64, -0.34), (42.76, -0.58), (42.89, -0.13), (43.03, 0.38), (43.18, 0.08), (43.31, 0.03),
    (43.41, -0.18), (43.53, -0.37), (43.64, -0.03), (43.85, 0.42), (44.00, 0.03), (44.12, -0.40), (44.21, -0.45),
    (44.36, -0.18), (44.53, 0.05), (44.63, 0.0), (44.76, -0.08), (44.85, 0.13), (45.00, 0.62), (45.15, 0.18),
    (45.25, -0.08), (45.38, -0.18), (45.49, 0.11),
    (45.62, 0.18), (45.77, 0.35), (45.87, 0.29), (45.96, -0.08), (46.16, -0.29), (46.31, -0.08), (46.46, 0.24),
    (46.62, 0.33), (46.75, 0.03), (46.85, -0.24), (46.98, -0.55), (47.10, -0.24), (47.26, 0.13), (47.39, 0.13),
    (47.59, -0.05), (47.73, -0.16), (47.85, -0.03), (48.05, 0.38), (48.18, 0.03), (48.33, -0.50), (48.42, -0.24),
    (48.57, 0.49), (48.72, -0.03), (48.92, -0.63), (49.06, -0.13), (49.28, 0.58), (49.41, 0.13), (49.51, -0.32),
    (49.65, -0.40), (49.78, -0.18), (50.06, 0.47), (50.20, 0.03), (50.32, -0.29), (50.44, -0.03), (50.59, 0.34),
    (50.74, -0.03), (50.86, -0.21), (50.98, 0.03), (51.10, 0.25), (51.23, -0.03), (51.35, -0.18), (51.46, -0.08),
    (51.69, 0.34), (51.82, -0.08), (51.95, -0.32), (52.07, -0.13), (52.34, 0.42), (52.46, 0.13), (52.66, -0.50),
    (52.77, -0.40), (53.02, 0.46), (53.15, 0.18), (53.49, -0.47), (53.64, -0.18), (53.99, 0.32), (54.13, 0.08),
    (54.35, -0.37), (54.48, -0.03), (54.77, 0.27), (54.92, 0.13), (55.19, -0.24), (55.36, 0.11), (55.48, 0.17),
    (55.61, 0.05), (55.76, -0.08), (55.89, 0.03), (56.05, -0.23), (56.20, -0.16), (56.40, 0.11), (56.67, 0.17),
    (56.79, 0.05), (56.91, -0.16), (57.01, -0.32),
]

ylabels = ["Acceleration (cm/s/s)", "Velocity (cm/s)", "Displacement (cm)"]
colors = ["k", "b", "r"]
T_END = 57.0

acc = np.array(acc_pts)
vel = np.array(vel_pts_milli) * [1.0, 1e-3]
disp = np.array(disp_pts_milli) * [1.0, 1e-3]

fig, axes = plt.subplots(3, 1, figsize=(12, 8))
fig.subplots_adjust(left=0.084, right=0.987, top=0.965, bottom=0.078, hspace=0.363)

for ax, data, lab, col in zip(axes, [acc, vel, disp], ylabels, colors):
    ax.plot(data[:, 0], data[:, 1], color=col, linewidth=1.5)
    lim = 1.1 * np.abs(data[:, 1]).max()
    ax.set_ylim(-lim, lim)
    ax.set_xlim(0, T_END)
    ax.set_xlabel("Time (s)", fontsize=14)
    ax.set_ylabel(lab, fontsize=14)
    ax.grid(True)

fig.savefig("out.png", dpi=300)
